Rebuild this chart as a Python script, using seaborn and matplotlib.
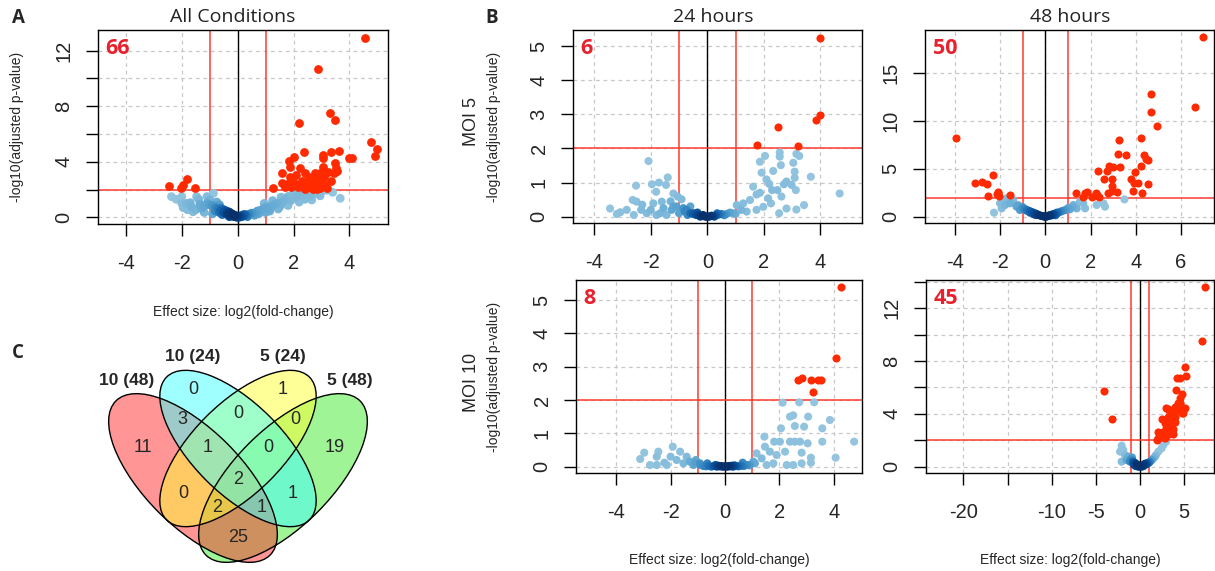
import numpy as np
import pandas as pd
import matplotlib
matplotlib.use("Agg")
import matplotlib.pyplot as plt
import seaborn as sns
from matplotlib.patches import Ellipse
from matplotlib.colors import LinearSegmentedColormap

sns.set_style("white")
plt.rcParams["font.family"] = ["Liberation Sans", "DejaVu Sans"]

# ---------------------------------------------------------------- data
# Panel A: all conditions
A_red = [(4.54,12.93),(2.86,10.68),(3.29,7.54),(3.48,7.00),(2.21,6.80),(4.76,5.45),(4.98,4.90),
         (4.90,4.44),(2.39,4.70),(2.00,4.37),(1.82,4.06),(3.35,4.73),(3.63,4.78),(3.05,4.46),
         (3.98,4.30),(4.09,4.30),(3.49,3.94),(3.07,4.25),(3.07,3.65),(3.52,3.53),(3.46,3.17),
         (1.88,3.65),(2.22,3.53),(2.07,3.05),(1.60,3.22),(2.41,3.22),(2.75,3.17),(2.95,3.22),
         (3.25,3.29),(1.88,2.93),(2.69,2.81),(2.89,2.81),(2.93,2.57),(1.58,2.45),(1.76,2.40),
         (2.00,2.50),(2.22,2.40),(2.47,2.57),(2.65,2.40),(2.81,2.33),(2.97,2.45),(3.13,2.33),
         (1.70,2.21),(1.90,2.21),(2.15,2.16),(2.35,2.21),(2.59,2.21),(2.77,2.16),(2.95,2.09),
         (1.25,2.09),(2.41,2.05),(2.83,2.05),(3.10,2.90),(2.55,2.90),(3.55,3.30),(2.30,2.60),
         (1.95,2.70),(3.35,2.60),(2.70,2.05),(3.20,2.10),(2.10,2.30),(-2.45,2.26),(-1.97,2.33),
         (-1.80,2.74),(-1.53,2.09),(-2.02,2.12)]
A_blue = [(-0.5,0.35),(-0.4,0.25),(-0.3,0.2),(-0.25,0.12),(-0.2,0.1),(-0.15,0.08),(-0.1,0.05),
          (-0.05,0.02),(0.0,0.0),(0.05,0.01),(0.1,0.04),(0.15,0.06),(0.2,0.1),(0.3,0.15),
          (0.4,0.22),(0.5,0.3),(-0.35,0.3),(-0.45,0.45),(-0.6,0.5),(-0.7,0.6),(-0.55,0.2),
          (-0.3,0.05),(0.25,0.2),(0.35,0.05),(0.6,0.3),(0.7,0.45),(0.8,0.5),(0.9,0.6),
          (-0.6,0.65),(-0.5,0.55),(-0.4,0.45),(-0.3,0.38),(-0.2,0.25),(-0.1,0.15),(0.0,0.08),
          (0.1,0.1),(0.2,0.18),(-0.65,0.35),(-0.8,0.45),
          (-0.8,0.7),(-0.9,0.85),(-1.0,0.9),(-1.1,1.0),(-1.2,0.8),(-1.3,0.65),(-1.5,0.55),
          (-1.6,0.4),(-1.8,0.55),(-1.95,0.7),(-2.0,1.0),(-1.7,1.05),(-1.4,1.3),(-1.1,1.49),
          (-0.87,1.73),(-1.47,1.49),(-2.0,1.49),(-2.37,1.49),(-1.83,1.0),(-1.0,1.25),
          (-0.75,1.1),(-0.65,0.9),(-1.2,0.35),(-0.9,0.25),(-1.35,0.95),(-2.2,1.3),(-1.65,0.75),
          (1.0,0.7),(1.1,0.55),(1.2,0.8),(1.3,0.9),(1.4,1.0),(1.5,0.75),(1.6,1.1),(1.7,1.3),
          (1.8,1.5),(1.9,1.2),(2.0,1.7),(2.1,1.45),(2.2,1.85),(2.3,1.6),(2.4,1.3),(2.5,1.8),
          (2.6,1.55),(2.75,1.9),(2.85,1.7),(3.0,1.85),(3.2,1.95),(3.4,1.8),(3.67,1.37),
          (1.55,1.45),(1.25,1.2),(0.95,1.0),(1.8,0.85),(2.2,1.1),(1.0,0.35),(0.6,0.15),
          (0.75,0.25),(1.15,0.45),(1.45,0.6),(2.65,1.25),(2.95,1.55)]
A_count = "66"

# Panel B: MOI 5, 24 hours
M5_24_red = [(3.98,5.25),(2.51,2.63),(3.99,2.98),(3.86,2.83),(1.74,2.09),(3.19,2.07)]
M5_24_blue = [(-2.08,1.63),(-1.40,1.15),(-2.52,0.91),(-1.96,0.95),(-1.71,1.0),(-1.46,0.93),
              (-1.81,0.73),(-1.20,0.68),(-1.05,0.59),(-0.91,0.51),(-2.64,0.49),(-2.5,0.44),
              (-3.44,0.24),(-3.08,0.13),(-2.85,0.2),(-2.34,0.2),(-1.91,0.39),(-1.61,0.44),
              (-2.14,0.1),(-1.67,0.1),(-1.26,0.2),(-1.44,0.05),(-0.73,0.2),(-0.49,0.1),
              (-2.3,0.35),(-2.0,0.2),(-1.55,0.25),(-1.1,0.3),(-0.85,0.25),(-1.8,0.05),
              (-2.6,0.05),(-3.2,0.08),(-1.3,0.45),(-0.6,0.3),
              (4.68,0.68),(3.66,1.17),(3.42,0.34),(3.15,0.21),(2.8,0.24),(2.54,0.1),(3.09,1.32),
              (3.09,1.14),(3.04,1.58),(3.25,1.78),(3.15,1.84),(2.56,1.88),(2.56,1.76),(2.04,1.78),
              (1.86,1.61),(1.92,1.29),(2.33,1.34),(2.6,1.51),(2.09,1.09),(2.19,0.96),(2.29,0.78),
              (2.48,0.78),(2.71,0.95),(2.8,1.03),(2.98,0.93),(3.13,0.78),(2.62,0.59),(1.86,0.7),
              (1.62,0.88),(1.74,0.65),(2.15,0.54),(2.25,0.39),(1.51,0.49),(1.27,0.39),(1.04,0.34),
              (1.98,0.29),(1.74,0.2),(1.39,0.15),(0.92,0.1),(0.68,0.08),
              (-0.4,0.05),(-0.3,0.04),(-0.2,0.02),(-0.1,0.01),(0.0,0.0),(0.1,0.01),(0.2,0.02),
              (0.3,0.04),(0.4,0.06),(0.5,0.08),(-0.5,0.08),(-0.6,0.1),(-0.15,0.05),(0.15,0.03),
              (0.05,0.0),(-0.05,0.0),(0.25,0.0),(-0.25,0.0),(-0.7,0.05),(0.6,0.04),(-0.8,0.15),
              (0.8,0.12),(-1.0,0.1),(1.0,0.08),(1.2,0.2),(-1.2,0.3),(0.35,0.1),(-0.35,0.12)]
M5_24_count = "6"

# Panel B: MOI 5, 48 hours
M5_48_red = [(6.99,18.77),(4.68,12.8),(6.62,11.51),(4.66,10.92),(4.93,9.52),(-3.95,8.2),
             (4.22,8.27),(3.27,7.99),(3.23,6.52),(3.57,6.45),(4.37,6.45),(4.44,6.0),(4.56,5.93),
             (4.22,5.3),(3.97,4.71),(3.30,5.23),(2.83,5.3),(3.0,5.23),(2.35,4.81),(2.71,4.81),
             (2.60,3.91),(2.94,3.94),(3.79,3.94),(4.12,3.56),(3.94,3.49),(2.96,3.21),(2.96,2.72),
             (3.86,2.72),(4.26,2.51),(4.53,3.42),(2.79,2.44),(2.27,2.27),(2.24,2.51),(2.39,2.02),
             (1.76,2.51),(1.86,2.62),(1.36,2.51),(2.05,2.02),(1.68,2.09),(3.19,2.62),
             (-2.3,4.36),(-3.1,3.49),(-2.8,3.66),(-2.58,3.42),(-2.52,2.16),(-2.11,2.51),
             (-2.05,2.16),(-2.15,2.34),(-1.56,2.27),(-2.08,2.62)]
M5_48_blue = [(3.5,1.81),(-2.27,0.42),(2.57,1.4),(2.27,1.22),(2.64,1.05),(1.68,1.4),(1.53,1.57),
              (1.24,1.22),(1.76,0.87),(1.39,0.87),(1.09,0.77),(0.80,0.63),(0.5,0.42),(0.35,0.28),
              (0.2,0.17),(-1.86,1.74),(-1.71,1.92),(-1.42,1.74),(-1.56,1.4),(-1.78,1.22),
              (-1.27,1.05),(-1.12,0.7),(-0.97,0.87),(-0.83,0.63),(-0.68,0.42),(-0.53,0.28),
              (-0.38,0.17),(-0.16,0.07),(0.0,0.0),(-2.0,1.4),(-1.93,0.87),
              (-0.6,0.5),(-0.5,0.4),(-0.4,0.3),(-0.3,0.2),(-0.2,0.1),(-0.1,0.05),(0.1,0.05),
              (0.2,0.1),(0.3,0.15),(0.4,0.25),(0.5,0.3),(0.6,0.45),(-0.8,0.7),(-0.9,0.8),
              (0.7,0.55),(0.9,0.7),(-0.7,0.6),(0.05,0.01),(-0.05,0.01),(0.0,0.02),(-0.45,0.2),
              (0.45,0.15),(-1.0,1.0),(-1.2,1.2),(1.0,0.9),(1.2,1.0)]
M5_48_count = "50"

# Panel B: MOI 10, 24 hours
M10_24_red = [(4.25,5.38),(4.07,3.25),(2.70,2.6),(2.82,2.67),(3.16,2.6),(3.43,2.6),(3.55,2.6),
              (3.25,2.23)]
M10_24_blue = [(4.75,0.75),(4.07,0.27),(3.86,1.4),(3.58,1.15),(3.58,0.75),(3.28,1.93),(2.73,1.93),
               (3.06,1.5),(2.91,1.2),(3.04,0.7),(3.16,0.27),(3.16,0.12),(2.82,0.42),(2.82,0.1),
               (2.57,1.22),(2.51,1.54),(2.39,1.5),(2.57,0.75),(2.76,0.75),(2.39,0.75),(2.12,1.92),
               (2.06,1.15),(2.02,0.75),(1.81,0.75),(2.21,0.45),(2.51,0.05),(2.27,0.05),(1.45,0.9),
               (1.47,0.6),(1.65,0.45),(1.9,0.35),(1.16,0.4),(1.35,0.25),(1.78,0.1),(1.53,0.05),
               (1.04,0.15),(0.92,0.05),
               (-3.12,0.23),(-2.97,0.42),(-2.45,0.45),(-2.51,0.3),(-2.51,0.05),(-2.23,0.12),
               (-1.92,0.6),(-1.65,0.45),(-2.0,0.3),(-1.78,0.2),(-1.53,0.1),(-1.29,0.15),
               (-1.07,0.2),(-0.92,0.1),(-1.41,0.3),(-2.14,0.05),(-1.16,0.05),(-2.76,0.05),
               (-0.8,0.02),(-0.7,0.01),(-0.6,0.03),(-0.5,0.0),(-0.4,0.02),(-0.3,0.0),(-0.2,0.01),
               (-0.1,0.0),(0.0,0.0),(0.1,0.0),(0.2,0.01),(0.3,0.0),(0.4,0.02),(0.5,0.01),
               (0.6,0.03),(0.7,0.02),(0.8,0.05),(-0.9,0.05),(0.9,0.04),(-0.15,0.02),(0.15,0.02),
               (-0.05,0.01),(0.05,0.01),(0.25,0.03),(-0.25,0.03),(-0.35,0.05),(0.35,0.04),
               (-1.1,0.12),(1.1,0.1),(-0.65,0.1),(0.65,0.12)]
M10_24_count = "8"

# Panel B: MOI 10, 48 hours
M10_48_red = [(7.36,13.59),(6.98,9.52),(5.09,7.58),(5.17,6.89),(4.15,6.69),(4.53,6.69),(4.08,5.81),
              (4.72,5.5),(4.53,5.18),(4.34,4.8),(4.64,4.55),(5.09,4.42),(2.94,4.42),(3.21,4.34),
              (4.34,4.29),(3.77,4.17),(4.72,4.09),(3.40,4.04),(3.96,3.79),(2.45,3.59),(3.51,3.54),
              (3.96,3.41),(2.83,3.28),(3.58,3.28),(3.28,3.03),(2.94,2.9),(3.77,2.83),(2.64,2.65),
              (2.08,2.6),(3.40,2.53),(3.70,2.47),(3.02,2.4),(2.26,2.35),(2.64,2.27),(2.08,2.15),
              (2.45,2.27),(2.83,2.15),(1.89,2.02),(-4.04,5.76),(-3.21,3.59),(4.53,4.85),
              (4.9,4.04),(3.21,3.79),(3.96,4.55),(2.83,2.65)]
M10_48_blue = [(-2.08,1.59),(-1.89,1.26),(-2.26,1.14),(-1.7,0.88),(-2.08,0.38),(-1.51,0.5),
               (-1.32,0.76),(-1.13,0.38),(-0.75,0.25),(-0.57,0.13),(-0.38,0.05),(0.0,0.0),
               (0.38,0.05),(0.75,0.2),(1.13,0.38),(1.51,0.63),(1.81,0.88),(2.08,1.14),(2.45,1.39),
               (2.64,1.64),(2.94,1.89),(1.32,0.5),(1.7,0.76),(0.94,0.3),
               (-0.8,0.4),(-0.6,0.3),(-0.4,0.2),(-0.2,0.1),(0.0,0.05),(0.2,0.05),(0.4,0.1),
               (0.6,0.15),(0.8,0.2),(-0.5,0.05),(-0.3,0.02),(0.3,0.02),(-1.0,0.55),(1.0,0.3),
               (0.1,0.0),(-0.1,0.0),(0.5,0.2),(-0.7,0.15),(0.7,0.25),(-0.9,0.7)]
M10_48_count = "45"

# Panel C: Venn diagram counts
venn_set_names = ["10 (48)", "10 (24)", "5 (24)", "5 (48)"]
venn_regions = ["R", "C", "Y", "G", "RC", "CY", "YG", "RY", "CG", "RG",
                "RCY", "CYG", "RYG", "RCG", "RCYG"]
venn_counts = [11, 0, 1, 19, 3, 0, 0, 0, 1, 25, 1, 0, 2, 1, 2]

# ---------------------------------------------------------------- style
W, H = 1215, 571
RED_PT = "#FF2A00"
RED_LN = "#FF3B2F"
RED_TX = "#E8212E"
GRID_C = "#C8C8C8"
BLUES = LinearSegmentedColormap.from_list("blues_part", plt.cm.Blues(np.linspace(0.40, 1.0, 256)))
TICK_FS = 14.5

fig = plt.figure(figsize=(W / 100, H / 100), dpi=100)


def px(x, y):
    return x / W, 1 - y / H


def add_ax(box):
    l, t, r, b = box
    return fig.add_axes([l / W, 1 - b / H, (r - l) / W, (b - t) / H])


def density(pts, xr, yr):
    x = np.array([p[0] for p in pts])
    y = np.array([p[1] for p in pts])
    hx, hy = 0.03 * xr, 0.03 * yr
    d = np.exp(-0.5 * (((x[:, None] - x[None, :]) / hx) ** 2 +
                       ((y[:, None] - y[None, :]) / hy) ** 2)).sum(1)
    d = (d - d.min()) / (d.max() - d.min())
    return x, y, d ** 2.0


def volcano(ax, blue, red, xlim, ylim, xticks, xshow, yticks, yshow, xgrid, ygrid, count, ms):
    ax.set_xlim(xlim)
    ax.set_ylim(ylim)
    for g in xgrid:
        ax.axvline(g, color=GRID_C, lw=0.9, ls=(0, (3, 3)), zorder=0)
    for g in ygrid:
        ax.axhline(g, color=GRID_C, lw=0.9, ls=(0, (3, 3)), zorder=0)
    ax.axvline(0, color="black", lw=1.0, zorder=1)
    for v in (-1, 1):
        ax.axvline(v, color=RED_LN, lw=1.1, zorder=1)
    ax.axhline(2, color=RED_LN, lw=1.1, zorder=1)
    bx, by, bd = density(blue, xlim[1] - xlim[0], ylim[1] - ylim[0])
    df = pd.DataFrame({"x": bx, "y": by, "d": bd}).sort_values("d")
    sns.scatterplot(data=df, x="x", y="y", hue="d", palette=BLUES, hue_norm=(0, 1),
                    s=ms, linewidth=0, legend=False, ax=ax, zorder=2)
    rdf = pd.DataFrame({"x": [p[0] for p in red], "y": [p[1] for p in red]})
    sns.scatterplot(data=rdf, x="x", y="y", color=RED_PT, s=ms, linewidth=0, ax=ax, zorder=3)
    ax.set_xticks(xticks)
    ax.set_xticklabels([str(t) if t in xshow else "" for t in xticks])
    ax.set_yticks(yticks)
    ax.set_yticklabels([str(t) if t in yshow else "" for t in yticks])
    ax.tick_params(axis="both", bottom=True, left=True, direction="out", length=8.6,
                   width=1.0, color="black", labelsize=TICK_FS)
    ax.tick_params(axis="x", pad=13)
    ax.tick_params(axis="y", pad=9, labelrotation=90)
    for lab in ax.get_yticklabels():
        lab.set_va("center")
    for sp in ax.spines.values():
        sp.set_color("black")
        sp.set_linewidth(1.0)
    ax.set_xlabel("")
    ax.set_ylabel("")
    ax.annotate(count, xy=(0, 1), xycoords="axes fraction", xytext=(5.5, -6),
                textcoords="offset points", ha="left", va="top", color=RED_TX,
                fontsize=15.5, fontweight="bold", family="Open Sans")


YLAB = "-log10(adjusted p-value)"
XLAB = "Effect size: log2(fold-change)"

# Panel A
axA = add_ax((98, 30, 388, 224))
volcano(axA, A_blue, A_red, (-5.0, 5.38), (-0.48, 13.48), [-4, -2, 0, 2, 4], [-4, -2, 0, 2, 4],
        list(range(0, 13, 2)), [0, 4, 8, 12], [-4, -2, 0, 2, 4], list(range(0, 13, 2)), A_count, 40)
axA.set_ylabel(YLAB, fontsize=10, va="center")
axA.yaxis.set_label_coords((17 - 98) / 290, 0.5)
axA.set_xlabel(XLAB, fontsize=10, va="center")
axA.xaxis.set_label_coords(0.5, -(312 - 224) / 194)

# Panel B: top-left
axTL = add_ax((573, 30, 862, 223))
volcano(axTL, M5_24_blue, M5_24_red, (-4.75, 5.47), (-0.185, 5.47), [-4, -2, 0, 2, 4],
        [-4, -2, 0, 2, 4], [0, 1, 2, 3, 4, 5], [0, 1, 2, 3, 4, 5], [-4, -2, 0, 2, 4],
        [0, 1, 2, 3, 4, 5], M5_24_count, 34)
axTL.set_ylabel(YLAB, fontsize=10, va="center")
axTL.yaxis.set_label_coords((494 - 573) / 289, 0.5)

# Panel B: top-right
axTR = add_ax((925, 30, 1214, 223))
volcano(axTR, M5_48_blue, M5_48_red, (-5.32, 7.46), (-0.66, 19.53), [-4, -2, 0, 2, 4, 6],
        [-4, -2, 0, 2, 4, 6], [0, 5, 10, 15], [0, 5, 10, 15], [-4, -2, 0, 2, 4, 6],
        [0, 5, 10, 15], M5_48_count, 34)

# Panel B: bottom-left
axBL = add_ax((576, 280, 862, 473))
volcano(axBL, M10_24_blue, M10_24_red, (-5.48, 5.04), (-0.19, 5.6), [-4, -2, 0, 2, 4],
        [-4, -2, 0, 2, 4], [0, 1, 2, 3, 4, 5], [0, 1, 2, 3, 4, 5], [-4, -2, 0, 2, 4],
        [0, 1, 2, 3, 4, 5], M10_24_count, 34)
axBL.set_ylabel(YLAB, fontsize=10, va="center")
axBL.yaxis.set_label_coords((494 - 576) / 286, 0.5)
axBL.set_xlabel(XLAB, fontsize=10, va="center")
axBL.xaxis.set_label_coords(0.5, -(560 - 473) / 193)

# Panel B: bottom-right
axBR = add_ax((926, 280, 1214, 473))
volcano(axBR, M10_48_blue, M10_48_red, (-24.24, 8.38), (-0.48, 14.14), [-20, -15, -10, -5, 0, 5],
        [-20, -10, -5, 0, 5], list(range(0, 15, 2)), [0, 4, 8, 12], [-20, -15, -10, -5, 0, 5],
        list(range(0, 15, 2)), M10_48_count, 34)
axBR.set_xlabel(XLAB, fontsize=10, va="center")
axBR.xaxis.set_label_coords(0.5, -(560 - 473) / 193)

# titles, row labels, panel letters
title_kw = dict(ha="center", va="center", fontsize=14, family="Open Sans", color="#222222")
fig.text(*px(233, 17), "All Conditions", **title_kw)
fig.text(*px(713, 17), "24 hours", **title_kw)
fig.text(*px(1070, 17), "48 hours", **title_kw)
fig.text(*px(472, 122), "MOI 5", rotation=90, ha="center", va="center", fontsize=13)
fig.text(*px(471, 382), "MOI 10", rotation=90, ha="center", va="center", fontsize=13)
letter_kw = dict(ha="center", va="center", fontsize=13.5, fontweight="bold", family="Open Sans")
fig.text(*px(18, 18), "A", **letter_kw)
fig.text(*px(492, 18), "B", **letter_kw)
fig.text(*px(18, 353), "C", **letter_kw)

# ---------------------------------------------------------------- Panel C: Venn
axV = fig.add_axes([0, 0, 480 / W, 241 / H])
axV.set_xlim(0, 480)
axV.set_ylim(571, 330)
axV.set_aspect("equal")
axV.axis("off")

ell_geom = {  # center (px), width, height, angle, colour
    "G": ((283, 478), 218, 97, -45, "#41EB2D"),
    "R": ((193, 478), 218, 97, 45, "#FF2D2D"),
    "Y": ((238, 448.5), 202, 90, -45, "#FFFF33"),
    "C": ((238, 448.5), 202, 90, 45, "#41FFFF"),
}
for key in ["G", "R", "Y", "C"]:
    c, w, h, ang, col = ell_geom[key]
    axV.add_patch(Ellipse(c, w, h, angle=ang, facecolor=col, alpha=0.5,
                          edgecolor="none", zorder=1))
for key in ["G", "R", "Y", "C"]:
    c, w, h, ang, col = ell_geom[key]
    axV.add_patch(Ellipse(c, w, h, angle=ang, facecolor="none",
                          edgecolor="black", lw=1.0, zorder=2))

region_pos = {"R": (143, 447), "C": (193, 390), "Y": (283, 390), "G": (335, 447),
              "RC": (182, 420), "CY": (238, 413), "YG": (295, 420), "RY": (183, 493),
              "CG": (293, 493), "RG": (238, 537), "RCY": (208, 447), "CYG": (268, 447),
              "RYG": (217, 507), "RCG": (262, 507), "RCYG": (238, 480)}
for reg, n in zip(venn_regions, venn_counts):
    axV.text(*region_pos[reg], str(n), ha="center", va="center", fontsize=13, zorder=3)

set_pos = [(127, 381), (193, 357), (283, 357), (350, 381)]
for name, pos in zip(venn_set_names, set_pos):
    axV.text(*pos, name, ha="center", va="center", fontsize=12.5, fontweight="bold", zorder=3)

fig.savefig("out.png", dpi=100)
